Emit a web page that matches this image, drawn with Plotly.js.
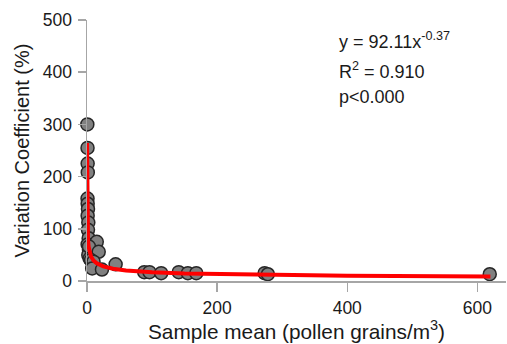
<!DOCTYPE html>
<html><head><meta charset="utf-8">
<script src="https://cdn.plot.ly/plotly-3.0.1.min.js"></script>
<style>html,body{margin:0;padding:0;background:#fff}#chart{width:507px;height:344px}</style>
</head><body><div id="chart"></div>
<script>
// Observed data (sample mean vs variation coefficient)
var sampleMean = [0.5, 0.8, 1, 1.2, 0.8, 1, 1.5, 1, 2, 1.5, 2.5, 1, 3, 2, 4, 15, 3, 18, 6, 10, 8, 23, 44, 88, 96, 114, 141, 155, 168, 273, 278, 619];
var variationCoef = [300, 255, 225, 208, 158, 148, 138, 125, 112, 98, 82, 70, 60, 50, 43, 75, 66, 56, 40, 37, 24, 22, 32, 17, 17, 15, 17, 15, 15, 15, 13, 13];
// Fitted power model shown on the chart: y = 92.11 x^-0.37
var fitA = 92.11, fitB = -0.37;
var fitX = [0.058, 0.08, 0.12, 0.2, 0.35, 0.6, 1, 1.5, 2.5, 4, 6, 10, 15, 25, 40, 60, 100, 150, 250, 400, 620];
var fitY = fitX.map(function(x){ return fitA * Math.pow(x, fitB); });
var xTicks = [0, 200, 400, 600];
var yTicks = [0, 100, 200, 300, 400, 500];

var font = "Liberation Sans, Arial, sans-serif";
var txt = '#1a1a1a';
var data = [
  {x: sampleMean, y: variationCoef, type: 'scatter', mode: 'markers', cliponaxis: false,
   marker: {size: 13, color: '#808080', line: {color: '#262626', width: 1.5}}, hoverinfo: 'skip'},
  {x: fitX, y: fitY, type: 'scatter', mode: 'lines', cliponaxis: false,
   line: {color: '#ff0000', width: 4}, hoverinfo: 'skip'}
];
var layout = {
  width: 507, height: 344,
  margin: {l: 87, r: 1, t: 20, b: 63},
  paper_bgcolor: '#fff', plot_bgcolor: '#fff',
  showlegend: false,
  font: {family: font, color: txt, size: 17},
  xaxis: {range: [0, 644], tickvals: xTicks, ticktext: xTicks.map(String),
    showgrid: false, zeroline: false, showline: true, linecolor: '#a6a6a6', linewidth: 1.5,
    ticks: 'outside', ticklen: 9, tickwidth: 1.5, tickcolor: '#a6a6a6', ticklabelstandoff: 1,
    tickfont: {family: font, size: 17.5, color: txt},
    title: {text: 'Sample mean (pollen grains/m<sup>3</sup>)', font: {family: font, size: 20.8, color: txt}, standoff: 0},
    automargin: false},
  yaxis: {range: [0, 500], tickvals: yTicks, ticktext: yTicks.map(String),
    showgrid: false, zeroline: false, showline: true, linecolor: '#a6a6a6', linewidth: 1.5,
    ticks: 'outside', ticklen: 8, tickwidth: 1.5, tickcolor: '#a6a6a6', ticklabelstandoff: 2,
    tickfont: {family: font, size: 17.5, color: txt},
    title: {text: 'Variation Coefficient (%)', font: {family: font, size: 20, color: txt}, standoff: 8},
    automargin: false},
  annotations: [
    {x: 385, y: 461, xref: 'x', yref: 'y', xanchor: 'left', yanchor: 'middle', showarrow: false,
     text: 'y = 92.11x<sup>-0.37</sup>', font: {family: font, size: 18, color: txt}},
    {x: 385, y: 403, xref: 'x', yref: 'y', xanchor: 'left', yanchor: 'middle', showarrow: false,
     text: 'R<sup>2</sup> = 0.910', font: {family: font, size: 18, color: txt}},
    {x: 385, y: 352, xref: 'x', yref: 'y', xanchor: 'left', yanchor: 'middle', showarrow: false,
     text: 'p<0.000', font: {family: font, size: 18, color: txt}}
  ]
};
Plotly.newPlot('chart', data, layout, {displayModeBar: false, staticPlot: true});
</script></body></html>
